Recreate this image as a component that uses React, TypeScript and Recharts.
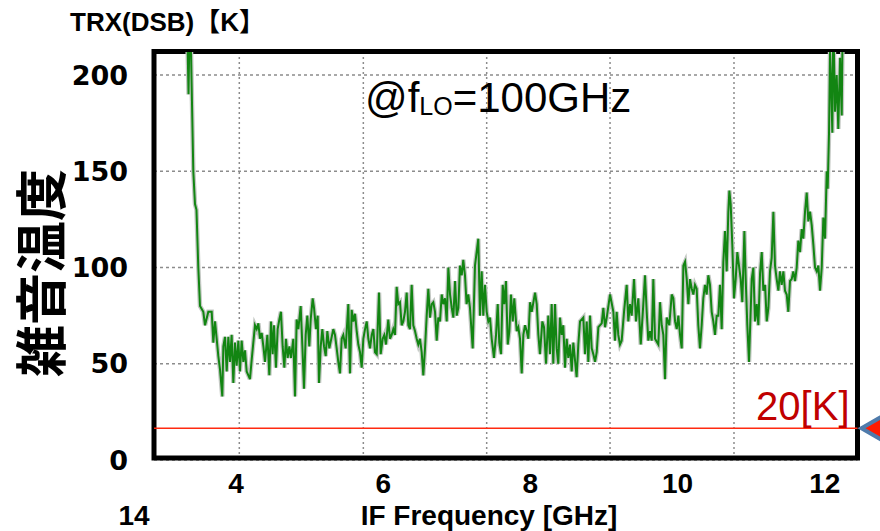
import {
  LineChart,
  Line,
  XAxis,
  YAxis,
  CartesianGrid,
  ReferenceLine,
  ReferenceDot,
} from 'recharts';

// IF frequency [GHz] of each sample
const freqGHz = [
  3.330, 3.355, 3.375, 3.420, 3.443, 3.463, 3.488, 3.511,
  3.556, 3.579, 3.624, 3.670, 3.692, 3.715, 3.760, 3.783, 3.814, 3.828,
  3.851, 3.874, 3.896, 3.918, 3.941, 3.964, 3.986, 4.009, 4.032, 4.054,
  4.077, 4.100, 4.122, 4.145, 4.168, 4.190, 4.213, 4.258, 4.281, 4.304,
  4.326, 4.349, 4.372, 4.394, 4.426, 4.453, 4.476, 4.498, 4.516, 4.543,
  4.566, 4.589, 4.611, 4.634, 4.657, 4.679, 4.702, 4.725, 4.747, 4.779,
  4.802, 4.824, 4.847, 4.879, 4.902, 4.924, 4.947, 4.969, 4.996, 5.015,
  5.042, 5.060, 5.087, 5.110, 5.128, 5.151, 5.173, 5.196, 5.219, 5.241, 5.268,
  5.322, 5.345, 5.368, 5.390, 5.413, 5.436, 5.458, 5.490, 5.526, 5.549,
  5.572, 5.594, 5.617, 5.640, 5.662, 5.685, 5.708, 5.730, 5.753, 5.776,
  5.798, 5.821, 5.844, 5.866, 5.889, 5.912, 5.943, 5.966, 5.993, 6.015,
  6.038, 6.069, 6.092, 6.115, 6.137, 6.160, 6.183, 6.205, 6.228, 6.251,
  6.273, 6.296, 6.319, 6.341, 6.364, 6.387, 6.409, 6.432, 6.455, 6.477,
  6.500, 6.523, 6.545, 6.568, 6.591, 6.613, 6.636, 6.659, 6.681, 6.704,
  6.727, 6.749, 6.772, 6.795, 6.817, 6.840, 6.863, 6.885, 6.908, 6.931,
  6.953, 6.976, 6.999, 7.021, 7.043, 7.067, 7.088, 7.111, 7.133, 7.156, 7.179,
  7.216, 7.247, 7.292, 7.315, 7.338, 7.360, 7.383, 7.406, 7.428, 7.451,
  7.474, 7.505, 7.533, 7.556, 7.577, 7.601, 7.624, 7.646, 7.668, 7.692,
  7.714, 7.736, 7.760, 7.781, 7.814, 7.836, 7.859, 7.882, 7.904, 7.927,
  7.950, 7.972, 7.995, 8.018, 8.063, 8.086, 8.108, 8.130, 8.162, 8.185,
  8.212, 8.243, 8.266, 8.289, 8.311, 8.334, 8.357, 8.379, 8.402, 8.425,
  8.447, 8.470, 8.493, 8.515, 8.538, 8.561, 8.583, 8.628, 8.651, 8.674,
  8.719, 8.742, 8.765, 8.787, 8.810, 8.833, 8.855, 8.878, 8.901, 8.923,
  8.969, 8.991, 9.014, 9.037,
  9.082, 9.127, 9.149, 9.172, 9.194, 9.217, 9.240, 9.272, 9.308, 9.330,
  9.353, 9.376, 9.408, 9.435, 9.466, 9.499, 9.534, 9.557, 9.580, 9.602,
  9.625, 9.648, 9.670, 9.693, 9.738, 9.761, 9.784, 9.806, 9.829, 9.852,
  9.887, 9.920, 9.942, 9.965, 9.988, 10.010, 10.033, 10.056, 10.078, 10.101,
  10.124, 10.146, 10.168, 10.192, 10.214, 10.236, 10.259, 10.281, 10.304, 10.327,
  10.349, 10.372, 10.395, 10.417, 10.440, 10.463, 10.485, 10.508, 10.531, 10.553,
  10.576, 10.599, 10.621, 10.644, 10.667, 10.689, 10.703, 10.721, 10.743, 10.766,
  10.789, 10.811, 10.834, 10.857, 10.879, 10.907, 10.925, 10.947, 10.970,
  11.007, 11.029, 11.052, 11.075, 11.097, 11.120, 11.143, 11.165, 11.188, 11.211,
  11.233, 11.255, 11.278, 11.301, 11.323, 11.346, 11.369, 11.391, 11.414, 11.437,
  11.459, 11.482, 11.504, 11.527, 11.550, 11.572, 11.595, 11.618, 11.640, 11.663,
  11.686, 11.708, 11.731, 11.754, 11.776, 11.799, 11.822, 11.844, 11.867, 11.890,
  11.912, 11.935, 11.958, 11.980, 12.003, 12.026, 12.039, 12.057, 12.071, 12.084,
  12.102, 12.115, 12.139, 12.161, 12.183, 12.207, 12.230, 12.243,
];

// receiver noise temperature TRX (DSB) [K]
const trxK = [
  240, 190, 240, 150, 133, 130, 100, 80,
  77, 70, 77, 77, 61, 72, 54, 47, 33, 59,
  64, 46, 64, 51, 65, 40, 61, 49, 62, 46,
  62, 51, 57, 46, 44, 42, 52, 70, 68, 71,
  63, 66, 59, 51, 65, 44, 72, 55, 70, 48,
  68, 73, 77, 59, 48, 63, 53, 59, 53, 63,
  33, 73, 68, 80, 59, 37, 65, 75, 59, 73,
  84, 79, 68, 75, 40, 59, 68, 59, 54, 67, 58,
  68, 65, 58, 51, 45, 63, 65, 58, 81, 45,
  78, 72, 76, 67, 60, 56, 48, 63, 68, 72,
  63, 58, 65, 68, 56, 55, 87, 55, 63, 65,
  60, 73, 63, 65, 68, 65, 90, 81, 82, 70,
  72, 77, 87, 70, 68, 91, 70, 67, 63, 60,
  63, 56, 44, 58, 75, 89, 74, 81, 82, 77,
  62, 74, 72, 86, 81, 84, 72, 100, 86, 79,
  74, 93, 75, 79, 101, 96, 104, 96, 81, 86, 79,
  58, 101, 115, 75, 98, 75, 91, 77, 72, 74,
  63, 53, 65, 81, 61, 55, 91, 81, 93, 60,
  67, 86, 72, 84, 67, 69, 63, 45, 65, 70,
  67, 63, 82, 77, 87, 81, 65, 55, 72, 69,
  50, 75, 55, 81, 50, 81, 58, 50, 74, 65,
  70, 48, 63, 53, 60, 46, 61, 43, 60, 72,
  74, 55, 72, 51, 75, 58, 55, 51, 56, 69,
  71, 79, 69, 74,
  86, 77, 62, 77, 65, 60, 62, 77, 91, 72,
  81, 75, 94, 72, 84, 60, 81, 96, 77, 62,
  67, 62, 94, 63, 60, 82, 70, 65, 42, 74,
  70, 86, 84, 72, 68, 75, 65, 58, 101, 103,
  94, 81, 94, 89, 86, 91, 89, 70, 58, 70,
  84, 91, 86, 96, 91, 77, 72, 65, 75, 75,
  91, 68, 103, 119, 98, 129, 140, 133, 112, 84,
  94, 108, 101, 94, 82, 119, 94, 70, 51,
  94, 100, 72, 81, 70, 97, 108, 88, 91, 72,
  79, 98, 105, 129, 101, 94, 88, 98, 91, 98,
  88, 86, 77, 93, 94, 98, 93, 100, 114, 108,
  120, 115, 129, 139, 124, 129, 122, 112, 100, 98,
  101, 88, 100, 126, 115, 150, 141, 170, 212, 198,
  170, 230, 181, 200, 172, 209, 179, 230,
];

const X_DOMAIN = [2.886, 12.444];
const Y_DOMAIN = [0, 212];
const X_TICKS = [4, 6, 8, 10, 12];
const Y_TICKS = [0, 50, 100, 150, 200];
// dotted vertical grid; it does not line up with the tick labels in the original
const GRID_X = [4.045, 5.73, 7.406, 9.082, 10.766];
const TARGET_K = 16.5;

const data = freqGHz.map((f, i) => ({ f, trx: trxK[i] }));

// plot box (matches the chart margins / axis sizes below)
const PLOT = { left: 154, top: 52, width: 703.5, height: 408 };
const gridPx = (g: number) =>
  PLOT.left + ((g - X_DOMAIN[0]) / (X_DOMAIN[1] - X_DOMAIN[0])) * PLOT.width;

const GRID = '#8c8c8c';

function Marker({ cx, cy }: { cx?: number; cy?: number }) {
  if (cx == null || cy == null) return null;
  return (
    <polygon
      points={`${cx + 4},${cy} ${cx + 30},${cy - 15} ${cx + 30},${cy + 15}`}
      fill="#ff1a00"
      stroke="#4f7bab"
      strokeWidth={4}
    />
  );
}

export default function App() {
  return (
    <div style={{ position: 'absolute', left: 0, top: 0, width: 880, height: 531, background: '#fff' }}>
      <LineChart
        width={880}
        height={531}
        data={data}
        margin={{ top: 52, right: 22.5, bottom: 0, left: 0 }}
      >
        <CartesianGrid stroke={GRID} strokeDasharray="3 3" strokeWidth={1.5} vertical={false} />
        {GRID_X.map((g) => (
          <line
            key={g}
            x1={gridPx(g)}
            x2={gridPx(g)}
            y1={PLOT.top}
            y2={PLOT.top + PLOT.height}
            stroke={GRID}
            strokeWidth={1.5}
            strokeDasharray="2 3"
          />
        ))}
        <XAxis
          type="number"
          dataKey="f"
          domain={X_DOMAIN}
          ticks={X_TICKS}
          allowDataOverflow
          height={71}
          axisLine={false}
          tickLine={false}
          tickSize={0}
          tickMargin={13}
          tick={{ fontFamily: 'Liberation Sans', fontWeight: 700, fontSize: 28, fill: '#000' }}
        />
        <YAxis
          type="number"
          domain={Y_DOMAIN}
          ticks={Y_TICKS}
          allowDataOverflow
          width={154}
          axisLine={false}
          tickLine={false}
          tickSize={0}
          tickMargin={26}
          tick={{ fontFamily: 'DejaVu Sans', fontWeight: 700, fontSize: 27, fill: '#000' }}
        />
        <Line
          type="linear"
          dataKey="trx"
          stroke="#c3c8c3"
          strokeWidth={4.5}
          dot={false}
          isAnimationActive={false}
        />
        <Line
          type="linear"
          dataKey="trx"
          stroke="#128512"
          strokeWidth={2}
          dot={false}
          isAnimationActive={false}
        />
        <ReferenceLine
          y={TARGET_K}
          stroke="#ff2a10"
          strokeWidth={1.5}
          label={{
            value: '20[K]',
            position: 'insideBottomRight',
            offset: 8,
            fill: '#c00000',
            fontSize: 40,
            fontFamily: 'Liberation Sans',
          }}
        />
        <ReferenceDot x={X_DOMAIN[1]} y={TARGET_K} r={0} shape={Marker} />

        {/* black frame round the plot area */}
        <rect x={154} y={51.5} width={703.5} height={406.5} fill="none" stroke="#000" strokeWidth={5} />

        <text
          x={70}
          y={31}
          fontFamily="Liberation Sans, Noto Sans CJK JP"
          fontWeight={700}
          fontSize={26}
          fill="#000"
        >
          TRX(DSB)【K】
        </text>
        <text x={365} y={112} fontFamily="Liberation Sans" fontSize={42} fill="#000">
          @f
          <tspan fontSize={25} dy={3}>LO</tspan>
          <tspan dy={-3}>=100GHz</tspan>
        </text>
        <text
          transform="rotate(-90)"
          x={-273}
          y={38}
          textAnchor="middle"
          dominantBaseline="central"
          fontFamily="Noto Sans CJK JP"
          fontWeight={700}
          fontSize={52}
          fill="#000"
        >
          雑音温度
        </text>
        <text
          x={489}
          y={525}
          textAnchor="middle"
          fontFamily="Liberation Sans"
          fontWeight={700}
          fontSize={28}
          fill="#000"
        >
          IF Frequency [GHz]
        </text>
        <text
          x={134}
          y={525}
          textAnchor="middle"
          fontFamily="Liberation Sans"
          fontWeight={700}
          fontSize={28}
          fill="#000"
        >
          14
        </text>
      </LineChart>
    </div>
  );
}
